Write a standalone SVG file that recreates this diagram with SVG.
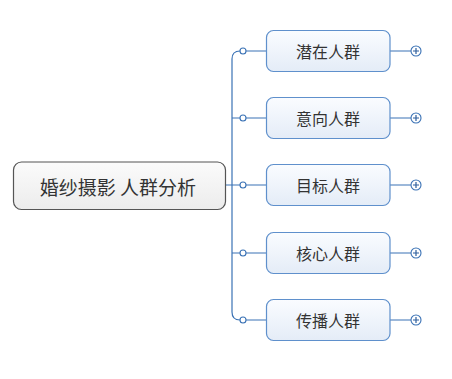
<svg xmlns="http://www.w3.org/2000/svg" width="452" height="379" viewBox="0 0 452 379">
<defs>
<linearGradient id="gC" x1="0" y1="0" x2="0" y2="1"><stop offset="0" stop-color="#fbfbfb"/><stop offset="1" stop-color="#ececec"/></linearGradient>
<linearGradient id="gN" x1="0" y1="0" x2="0" y2="1"><stop offset="0" stop-color="#fafcff"/><stop offset="1" stop-color="#e4ecf7"/></linearGradient>
</defs>
<style>
.ln{fill:none;stroke:#3a72b5;stroke-width:1.2}
.dot{fill:#fff;stroke:#3a72b5;stroke-width:1.1}
.node{fill:url(#gN);stroke:#5f90cc;stroke-width:1.2}
.t{font-family:"Noto Sans CJK SC","Noto Sans",sans-serif;fill:#333;text-anchor:middle;dominant-baseline:central}
.plus{stroke:#2e5f9e;stroke-width:1.2}
</style>
<rect width="452" height="379" fill="#fff"/>
<g id="connectors">
<path class="ln" d="M225,185H266"/>
<path class="ln" d="M232,59Q232,51 240,51H266M232,59V312Q232,320 240,320H266"/>
<path class="ln" d="M232,118H266M232,253H266"/>
<path class="ln" d="M390,51H411M390,118H411M390,185H411M390,253H411M390,320H411"/>
<circle class="dot" cx="243" cy="185" r="3"/>
<circle class="dot" cx="243" cy="51" r="3"/>
<circle class="dot" cx="243" cy="118" r="3"/>
<circle class="dot" cx="243" cy="253" r="3"/>
<circle class="dot" cx="243" cy="320" r="3"/>
</g>
<g id="root">
<rect x="13.5" y="162" width="212" height="47.5" rx="8" fill="url(#gC)" stroke="#555" stroke-width="1.2"/>
<text class="t" x="118" y="186" font-size="19">婚纱摄影 人群分析</text>
</g>
<g id="n1">
<rect class="node" x="266.5" y="30.5" width="123.5" height="41" rx="7"/>
<text class="t" x="328" y="51" font-size="16">潜在人群</text>
<circle class="dot" cx="416" cy="51" r="5"/><path class="plus" d="M413,51H419M416,48V54"/>
</g>
<g id="n2">
<rect class="node" x="266.5" y="97.5" width="123.5" height="41" rx="7"/>
<text class="t" x="328" y="118" font-size="16">意向人群</text>
<circle class="dot" cx="416" cy="118" r="5"/><path class="plus" d="M413,118H419M416,115V121"/>
</g>
<g id="n3">
<rect class="node" x="266.5" y="164.5" width="123.5" height="41" rx="7"/>
<text class="t" x="328" y="185" font-size="16">目标人群</text>
<circle class="dot" cx="416" cy="185" r="5"/><path class="plus" d="M413,185H419M416,182V188"/>
</g>
<g id="n4">
<rect class="node" x="266.5" y="232.5" width="123.5" height="41" rx="7"/>
<text class="t" x="328" y="253" font-size="16">核心人群</text>
<circle class="dot" cx="416" cy="253" r="5"/><path class="plus" d="M413,253H419M416,250V256"/>
</g>
<g id="n5">
<rect class="node" x="266.5" y="299.5" width="123.5" height="41" rx="7"/>
<text class="t" x="328" y="320" font-size="16">传播人群</text>
<circle class="dot" cx="416" cy="320" r="5"/><path class="plus" d="M413,320H419M416,317V323"/>
</g>
</svg>
